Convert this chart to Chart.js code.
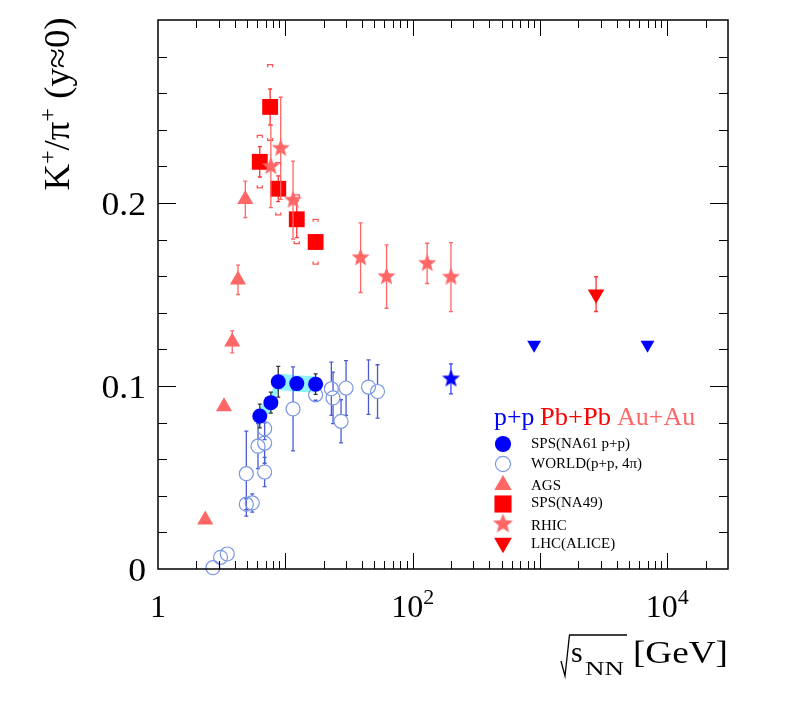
<!DOCTYPE html>
<html>
<head>
<meta charset="utf-8">
<title>K+/pi+ vs sqrt(sNN)</title>
<script src="https://cdn.jsdelivr.net/npm/chart.js@4.4.1/dist/chart.umd.min.js"></script>
<style>
    html, body { margin: 0; padding: 0; background: #fff; }
    #wrap { width: 787px; height: 711px; }
</style>
</head>
<body>
<div id="wrap"><canvas id="kpiChart" width="787" height="711"></canvas></div>
<script>
// K+/pi+ at midrapidity vs collision energy
const na61Energy = [6.3, 7.7, 8.8, 12.3, 17.3];
const na61Ratio = [0.0836, 0.0909, 0.1023, 0.1013, 0.1010];
const na61Stat = [0.0065, 0.0057, 0.0084, 0.003, 0.0056];
const na61Sys = [0.0045, 0.0045, 0.0045, 0.0045, 0.0045];

const worldEnergy = [2.7, 3.1, 3.5, 4.94, 4.94, 5.5, 6.1, 6.88, 6.88, 6.88, 11.5, 17.3, 23, 23.7, 27.4, 30, 45, 53];
const worldRatio = [0.0007, 0.0064, 0.0082, 0.0521, 0.0354, 0.0361, 0.0671, 0.0767, 0.0688, 0.053, 0.0875, 0.0952, 0.0985, 0.0935, 0.0807, 0.0989, 0.0994, 0.0970];
const worldErr = [0, 0, 0, 0.0232, 0.003, 0.005, 0.0123, 0.006, 0.011, 0.008, 0.023, 0.003, 0.0145, 0.0141, 0.0118, 0.015, 0.0149, 0.0146];

const agsEnergy = [2.35, 3.3, 3.83, 4.25, 4.85];
const agsRatio = [0.0269, 0.0888, 0.1241, 0.158, 0.202];
const agsErr = [0, 0, 0.006, 0.008, 0.010];

const na49Energy = [6.3, 7.6, 8.8, 12.3, 17.3];
const na49Ratio = [0.2225, 0.2525, 0.2078, 0.1911, 0.1787];
const na49Stat = [0.0083, 0.0098, 0.007, 0.010, 0.004];
const na49SysUp = [0.0144, 0.0231, 0.0142, 0.0133, 0.0124];
const na49SysDn = [0.0142, 0.0183, 0.0143, 0.0133, 0.0121];

const rhicEnergy = [7.7, 9.2, 11.5, 39, 62.4, 130, 200];
const rhicRatio = [0.2200, 0.2299, 0.2016, 0.1701, 0.1598, 0.1670, 0.1595];
const rhicErr = [0.0225, 0.0279, 0.0213, 0.019, 0.0173, 0.011, 0.0189];

const aliceEnergy = [2760];
const aliceRatio = [0.1502];
const aliceErr = [0.0095];

const lhcPPEnergy = [900, 7000];
const lhcPPRatio = [0.1226, 0.1226];

const rhicPPEnergy = [200];
const rhicPPRatio = [0.1039];
const rhicPPErr = [0.0082];

const xTickVals = [1, 100, 10000];
const xTickBase = ['1', '10', '10'];
const xTickSup = ['', '2', '4'];
const yTickVals = [0, 0.1, 0.2];
const yTickText = ['0', '0.1', '0.2'];

const legendLabels = ['SPS(NA61 p+p)', 'WORLD(p+p, 4\u03c0)', 'AGS', 'SPS(NA49)', 'RHIC', 'LHC(ALICE)'];

const SERIF = '"Liberation Serif", "Times New Roman", serif';
const BLUE = '#0000ff';
const RED = '#ff0000';
const PINK = '#ff6666';

function pts(xs, ys) {
    return xs.map((x, i) => ({ x: x, y: ys[i] }));
}

// filled five point star, used as a point style
function starImage(radius, color) {
    const c = document.createElement('canvas');
    const s = Math.ceil(radius * 2 + 2);
    c.width = s;
    c.height = s;
    const g = c.getContext('2d');
    g.fillStyle = color;
    g.beginPath();
    for (let i = 0; i < 10; i++) {
        const r = i % 2 ? radius * 0.43 : radius;
        const a = -Math.PI / 2 + i * Math.PI / 5;
        const px = s / 2 + Math.cos(a) * r, py = s / 2 + Math.sin(a) * r;
        if (i) g.lineTo(px, py); else g.moveTo(px, py);
    }
    g.closePath();
    g.fill();
    return c;
}

// text drawn as runs: [text, size, raise]
function drawRuns(ctx, runs, x, y, align, color, stretch) {
    stretch = stretch || 1;
    ctx.save();
    let total = 0;
    runs.forEach(r => {
        ctx.font = r[1] + 'px ' + SERIF;
        total += ctx.measureText(r[0]).width;
    });
    let x0 = 0;
    if (align === 'right') x0 = -total * stretch;
    else if (align === 'center') x0 = -total * stretch / 2;
    ctx.translate(x + x0, y);
    ctx.scale(stretch, 1);
    ctx.fillStyle = color;
    ctx.textAlign = 'left';
    ctx.textBaseline = 'alphabetic';
    let cx = 0;
    runs.forEach(r => {
        ctx.font = r[1] + 'px ' + SERIF;
        ctx.fillText(r[0], cx, r[2]);
        cx += ctx.measureText(r[0]).width;
    });
    ctx.restore();
    return total * stretch;
}

const errorBars = {
    id: 'errorBars',
    beforeDatasetDraw(chart, args) {
        const ds = chart.data.datasets[args.index];
        if (!ds.errHi && !ds.sysHi) return;
        const xs = chart.scales.x, ys = chart.scales.y, ctx = chart.ctx;
        ctx.save();
        ctx.lineWidth = 1.3;
        ds.data.forEach((p, i) => {
            const px = xs.getPixelForValue(p.x), py = ys.getPixelForValue(p.y);
            if (ds.sysHi) {
                const t = ys.getPixelForValue(p.y + ds.sysHi[i]);
                const b = ys.getPixelForValue(p.y - ds.sysLo[i]);
                ctx.strokeStyle = ds.sysColor;
                ctx.beginPath();
                ctx.moveTo(px - 2.5, t + 2.5); ctx.lineTo(px - 2.5, t); ctx.lineTo(px + 2.5, t); ctx.lineTo(px + 2.5, t + 2.5);
                ctx.moveTo(px - 2.5, b - 2.5); ctx.lineTo(px - 2.5, b); ctx.lineTo(px + 2.5, b); ctx.lineTo(px + 2.5, b - 2.5);
                ctx.stroke();
            }
            if (ds.errHi && ds.errHi[i] > 0) {
                const t = ys.getPixelForValue(p.y + ds.errHi[i]);
                const b = ys.getPixelForValue(p.y - ds.errLo[i]);
                const gap = ds.errGap || 0;
                ctx.strokeStyle = ds.errColor;
                ctx.beginPath();
                if (py - gap > t) { ctx.moveTo(px, py - gap); ctx.lineTo(px, t); }
                if (py + gap < b) { ctx.moveTo(px, py + gap); ctx.lineTo(px, b); }
                ctx.moveTo(px - 2, t); ctx.lineTo(px + 2, t);
                ctx.moveTo(px - 2, b); ctx.lineTo(px + 2, b);
                ctx.stroke();
            }
        });
        ctx.restore();
    }
};

// frame with inward ticks on all four sides
const frameTicks = {
    id: 'frameTicks',
    afterDatasetsDraw(chart) {
        const ctx = chart.ctx, a = chart.chartArea, x = chart.scales.x, y = chart.scales.y;
        ctx.save();
        ctx.strokeStyle = '#000';
        ctx.lineWidth = 1;
        ctx.beginPath();
        for (let d = 1; d <= x.max; d *= 10) {
            for (let k = 1; k < 10; k++) {
                const v = d * k;
                if (v <= x.min || v >= x.max) continue;
                const px = Math.round(x.getPixelForValue(v)) + 0.5;
                const len = k === 1 ? 16 : 8;
                ctx.moveTo(px, a.bottom); ctx.lineTo(px, a.bottom - len);
                ctx.moveTo(px, a.top); ctx.lineTo(px, a.top + len);
            }
        }
        for (let i = 1; i < 15; i++) {
            const py = Math.round(y.getPixelForValue(i * 0.02)) + 0.5;
            const len = i % 5 === 0 ? 18 : 9;
            ctx.moveTo(a.left, py); ctx.lineTo(a.left + len, py);
            ctx.moveTo(a.right, py); ctx.lineTo(a.right - len, py);
        }
        ctx.stroke();
        ctx.lineWidth = 1.5;
        ctx.strokeRect(a.left, a.top, a.right - a.left, a.bottom - a.top);
        ctx.restore();
    }
};

const starLegend = starImage(10.5, PINK);

const textLayer = {
    id: 'textLayer',
    afterDraw(chart) {
        const ctx = chart.ctx, x = chart.scales.x, y = chart.scales.y;

        xTickVals.forEach((v, i) => {
            const runs = [[xTickBase[i], 32, 0]];
            if (xTickSup[i]) runs.push([xTickSup[i], 22, -13]);
            drawRuns(ctx, runs, x.getPixelForValue(v), 617, 'center', '#000');
        });
        yTickVals.forEach((v, i) => {
            drawRuns(ctx, [[yTickText[i], 34, 0]], 146, y.getPixelForValue(v) + 11.5, 'right', '#000', 1.05);
        });

        // y title
        ctx.save();
        ctx.translate(69, 104);
        ctx.rotate(-Math.PI / 2);
        drawRuns(ctx, [['K', 35, 0], ['+', 23, -14], ['/\u03c0', 35, 0], ['+', 23, -14], [' (y\u22480)', 35, 0]], 0, 0, 'center', '#000', 1.05);
        ctx.restore();

        // x title: sqrt(s_NN) [GeV]
        ctx.save();
        ctx.strokeStyle = '#000';
        ctx.lineWidth = 1.3;
        ctx.beginPath();
        ctx.moveTo(561, 661); ctx.lineTo(565, 676); ctx.lineTo(569.5, 635); ctx.lineTo(627, 635);
        ctx.stroke();
        ctx.restore();
        drawRuns(ctx, [['s', 30, 0]], 571, 662, 'left', '#000');
        drawRuns(ctx, [['NN', 18, 0]], 585, 675, 'left', '#000', 1.5);
        drawRuns(ctx, [['[GeV]', 31, 0]], 728, 663, 'right', '#000', 1.2);

        // legend header
        drawRuns(ctx, [['p+p', 25, 0]], 494, 425, 'left', BLUE, 1.03);
        drawRuns(ctx, [['Pb+Pb', 25, 0]], 540, 425, 'left', RED, 1.06);
        drawRuns(ctx, [['Au+Au', 25, 0]], 617, 425, 'left', PINK, 1.04);

        // legend rows
        const rowMarkY = [444, 464, 485, 504, 524, 543];
        const rowTextY = [447.5, 468, 490, 507, 529.5, 548];
        legendLabels.forEach((lbl, i) => {
            const ds = chart.data.datasets.find(d => d.label === lbl);
            const isImage = typeof ds.pointStyle !== 'string';
            ctx.save();
            ctx.fillStyle = ds.backgroundColor;
            ctx.strokeStyle = ds.borderColor;
            ctx.lineWidth = ds.borderWidth;
            const opts = {
                pointStyle: isImage ? starLegend : ds.pointStyle,
                radius: ds.pointRadius * 1.08,
                rotation: ds.pointRotation || 0,
                borderWidth: ds.borderWidth
            };
            Chart.helpers.drawPoint(ctx, opts, 503, rowMarkY[i]);
            ctx.restore();
            drawRuns(ctx, [[lbl, 15, 0]], 531, rowTextY[i], 'left', '#000');
        });
    }
};

const starPink = starImage(9.5, PINK);
const starBlue = starImage(9.5, BLUE);

const datasets = [
    {
        label: 'SPS(NA61 p+p)', data: pts(na61Energy, na61Ratio),
        pointStyle: 'circle', pointRadius: 7.5, backgroundColor: BLUE, borderColor: BLUE, borderWidth: 0,
        errHi: na61Stat, errLo: na61Stat, errColor: '#333333'
    },
    {
        label: 'RHIC p+p', data: pts(rhicPPEnergy, rhicPPRatio),
        pointStyle: starBlue, pointRadius: 9, backgroundColor: BLUE, borderColor: BLUE, borderWidth: 0,
        errHi: rhicPPErr, errLo: rhicPPErr, errColor: '#3344ff'
    },
    {
        label: 'LHC p+p', data: pts(lhcPPEnergy, lhcPPRatio),
        pointStyle: 'triangle', pointRotation: 180, pointRadius: 8, backgroundColor: BLUE, borderColor: BLUE, borderWidth: 0
    },
    {
        label: 'LHC(ALICE)', data: pts(aliceEnergy, aliceRatio),
        pointStyle: 'triangle', pointRotation: 180, pointRadius: 9.5, backgroundColor: RED, borderColor: RED, borderWidth: 0,
        errHi: aliceErr, errLo: aliceErr, errColor: '#ff3333'
    },
    {
        label: 'RHIC', data: pts(rhicEnergy, rhicRatio),
        pointStyle: starPink, pointRadius: 9, backgroundColor: PINK, borderColor: PINK, borderWidth: 0,
        errHi: rhicErr, errLo: rhicErr, errColor: PINK
    },
    {
        label: 'SPS(NA49)', data: pts(na49Energy, na49Ratio),
        pointStyle: 'rect', pointRadius: 11.2, backgroundColor: RED, borderColor: RED, borderWidth: 0,
        errHi: na49Stat, errLo: na49Stat, errColor: '#ff3333',
        sysHi: na49SysUp, sysLo: na49SysDn, sysColor: '#ff5555'
    },
    {
        label: 'AGS', data: pts(agsEnergy, agsRatio),
        pointStyle: 'triangle', pointRadius: 9.3, backgroundColor: PINK, borderColor: PINK, borderWidth: 0,
        errHi: agsErr, errLo: agsErr, errColor: PINK
    },
    {
        label: 'WORLD(p+p, 4\u03c0)', data: pts(worldEnergy, worldRatio),
        pointStyle: 'circle', pointRadius: 7, backgroundColor: 'rgba(255,255,255,0)', borderColor: '#7b97e3', borderWidth: 1.2,
        errHi: worldErr, errLo: worldErr, errColor: '#4b5bd6', errGap: 7
    },
    {
        label: 'NA61 sys low', type: 'line', data: pts(na61Energy, na61Ratio.map((v, i) => v - na61Sys[i])),
        showLine: true, pointRadius: 0, borderWidth: 0, borderColor: 'rgba(0,0,0,0)', fill: false
    },
    {
        label: 'NA61 sys high', type: 'line', data: pts(na61Energy, na61Ratio.map((v, i) => v + na61Sys[i])),
        showLine: true, pointRadius: 0, borderWidth: 0, borderColor: 'rgba(0,0,0,0)',
        backgroundColor: '#8ef2ff', fill: '-1'
    }
];
datasets.forEach(d => { d.clip = false; d.pointHoverRadius = d.pointRadius; });

new Chart(document.getElementById('kpiChart'), {
    type: 'scatter',
    data: { datasets: datasets },
    options: {
        responsive: false,
        animation: false,
        devicePixelRatio: 1,
        layout: { padding: { top: 20, right: 59, bottom: 0, left: 0 } },
        plugins: {
            legend: { display: false },
            tooltip: { enabled: false }
        },
        scales: {
            x: {
                type: 'logarithmic', min: 1, max: 30000,
                afterFit: s => { s.height = 142; },
                ticks: { display: false },
                grid: { display: false, drawTicks: false },
                border: { display: false }
            },
            y: {
                min: 0, max: 0.3,
                afterFit: s => { s.width = 158; },
                ticks: { display: false },
                grid: { display: false, drawTicks: false },
                border: { display: false }
            }
        }
    },
    plugins: [errorBars, frameTicks, textLayer]
});
</script>
</body>
</html>
